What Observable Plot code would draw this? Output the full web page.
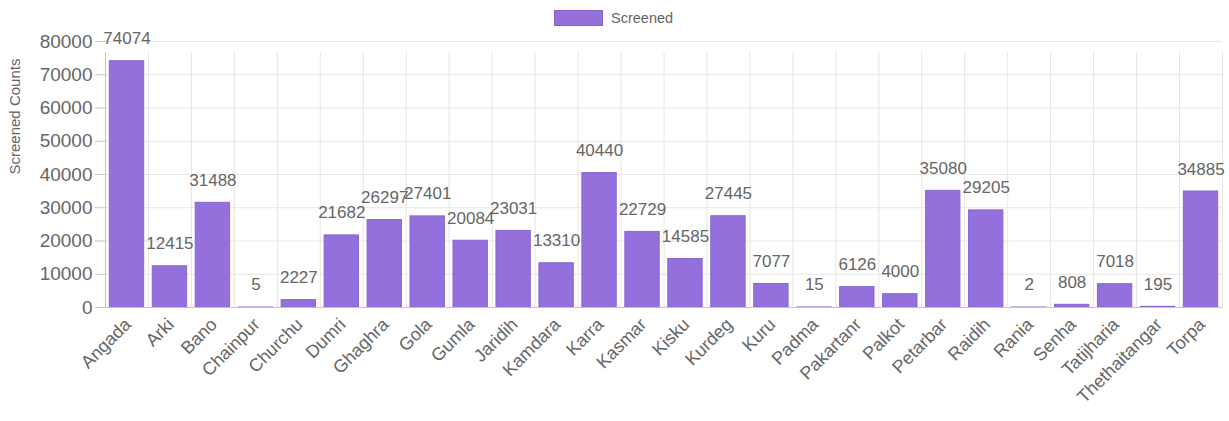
<!DOCTYPE html>
<html><head><meta charset="utf-8">
<script src="https://cdn.jsdelivr.net/npm/d3@7"></script>
<script src="https://cdn.jsdelivr.net/npm/@observablehq/plot@0.6"></script>
<style>
body{margin:0;background:#fff;font-family:"Liberation Sans",Arial,sans-serif;}
#wrap{position:relative;width:1229px;height:421px;}
#legend{position:absolute;left:554px;top:10px;height:16px;display:flex;align-items:center;font-size:14.5px;color:#666;}
#legend .sw{width:49px;height:16px;background:#9370DB;border:1px solid #8560d0;margin-right:8px;box-sizing:border-box;}
#wrap svg{position:absolute;left:0;top:0;}
</style></head><body>
<div id="wrap"><div id="legend"><span class="sw"></span><span id="legtxt"></span></div></div>
<script>
const blocks = ["Angada","Arki","Bano","Chainpur","Churchu","Dumri","Ghaghra","Gola","Gumla","Jaridih","Kamdara","Karra","Kasmar","Kisku","Kurdeg","Kuru","Padma","Pakartanr","Palkot","Petarbar","Raidih","Rania","Senha","Tatijharia","Thethaitangar","Torpa"];
const screened = [74074,12415,31488,5,2227,21682,26297,27401,20084,23031,13310,40440,22729,14585,27445,7077,15,6126,4000,35080,29205,2,808,7018,195,34885];
const yTicks = [0,10000,20000,30000,40000,50000,60000,70000,80000];
const seriesName = "Screened";
const yTitle = "Screened Counts";

document.getElementById("legtxt").textContent = seriesName;
const data = blocks.map((b,i)=>({block:b, value:screened[i]}));
const W=1229, H=421, ml=105, mr=7, mt=41, mb=114;
const step = (W-ml-mr)/blocks.length;
const grid = "#e6e6e6", axisC = "#c4c4c4";
const plot = Plot.plot({
  width:W, height:H, marginLeft:ml, marginRight:mr, marginTop:mt, marginBottom:mb,
  style:{fontFamily:"'Liberation Sans', Arial, sans-serif", color:"#666", background:"transparent"},
  x:{domain:blocks, paddingInner:0.2, paddingOuter:0.1, round:false, label:null},
  y:{domain:[0,80000], label:null},
  marks:[
    Plot.gridY(yTicks,{stroke:grid, strokeOpacity:1}),
    Plot.ruleX(blocks,{x:d=>d, dx:-step/2, y1:0, y2:80000, stroke:grid, insetBottom:-11}),
    Plot.ruleX([blocks[blocks.length-1]],{x:d=>d, dx:step/2, y1:0, y2:80000, stroke:grid, insetBottom:-11}),
    Plot.barY(data,{x:"block", y:"value", fill:"#9370DB", stroke:"#8a66d6", strokeWidth:1}),
    Plot.ruleX([blocks[0]],{x:d=>d, dx:-step/2, y1:0, y2:80000, stroke:axisC, insetBottom:-11}),
    Plot.ruleY([0],{stroke:axisC}),
    Plot.axisY(yTicks,{tickSize:10, tickPadding:3, fontSize:19, tickFormat:d=>String(d), stroke:axisC, fill:"#666", label:null}),
    Plot.axisX({tickSize:0, tickRotate:-45, tickPadding:14, dx:1, fontSize:18, fill:"#666", label:null}),
    Plot.text(data,{x:"block", y:"value", text:d=>String(d.value), dy:-17, lineAnchor:"bottom", fontSize:17, fill:"#666"}),
    Plot.text([yTitle],{frameAnchor:"left", rotate:-90, dx:-90, fontSize:15, fill:"#666"})
  ]
});
document.getElementById("wrap").appendChild(plot);
</script>
</body></html>
